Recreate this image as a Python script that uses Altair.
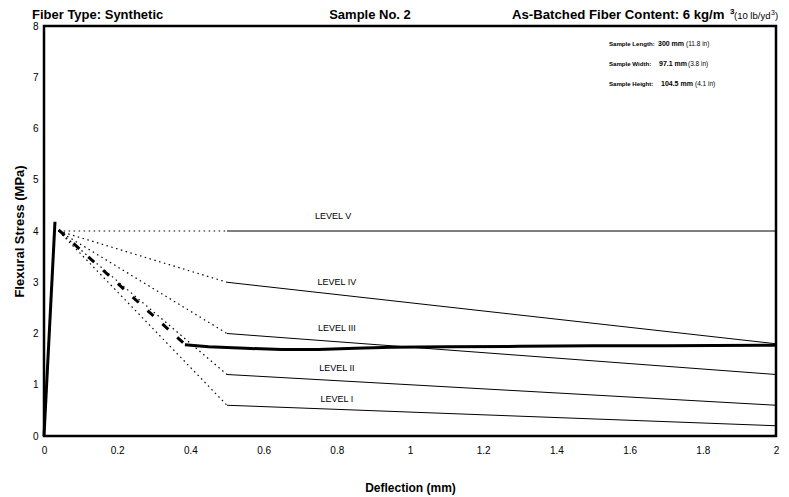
import altair as alt
import pandas as pd

FONT = "Liberation Sans"

# Pre-peak and post-peak specimen curve
peak_x = [0.0, 0.03]
peak_y = [0.0, 4.18]
drop_x = [0.04, 0.38]
drop_y = [4.02, 1.82]
resid_x = [0.385, 0.45, 0.55, 0.65, 0.75, 0.85, 0.95, 1.1, 1.3, 1.5, 1.7, 2.0]
resid_y = [1.78, 1.74, 1.71, 1.69, 1.69, 1.71, 1.73, 1.74, 1.75, 1.76, 1.76, 1.77]

# Performance levels
levels = ["LEVEL I", "LEVEL II", "LEVEL III", "LEVEL IV", "LEVEL V"]
level_start = [0.6, 1.2, 2.0, 3.0, 4.0]   # stress at 0.5 mm
level_end = [0.2, 0.6, 1.2, 1.8, 4.0]     # stress at 2.0 mm
level_origin_x = 0.04
level_origin_y = 4.0
label_x = [0.80, 0.80, 0.80, 0.80, 0.79]
label_y = [0.72, 1.32, 2.1, 3.0, 4.3]

x_ticks = [0, 0.2, 0.4, 0.6, 0.8, 1, 1.2, 1.4, 1.6, 1.8, 2]
y_ticks = [0, 1, 2, 3, 4, 5, 6, 7, 8]

dotted = pd.DataFrame(
    [{"lvl": l, "x": level_origin_x, "y": level_origin_y, "o": 0} for l in levels]
    + [{"lvl": l, "x": 0.5, "y": s, "o": 1} for l, s in zip(levels, level_start)]
)
solid = pd.DataFrame(
    [{"lvl": l, "x": 0.5, "y": s, "o": 0} for l, s in zip(levels, level_start)]
    + [{"lvl": l, "x": 2.0, "y": e, "o": 1} for l, e in zip(levels, level_end)]
)
labels_df = pd.DataFrame({"x": label_x, "y": label_y, "t": levels})
peak_df = pd.DataFrame({"x": peak_x, "y": peak_y})
drop_df = pd.DataFrame({"x": drop_x, "y": drop_y})
resid_df = pd.DataFrame({"x": resid_x, "y": resid_y})

xs = alt.Scale(domain=[0, 2], nice=False)
ys = alt.Scale(domain=[0, 8], nice=False)

x_axis = alt.Axis(values=x_ticks, format="~g", title="Deflection (mm)",
                  domain=False, ticks=False, grid=False, labelFlush=False,
                  labelFont=FONT, labelFontSize=10, labelPadding=9,
                  titleFont=FONT, titleFontSize=12, titleFontWeight="bold",
                  titlePadding=27, labelColor="black", titleColor="black")
y_axis = alt.Axis(values=y_ticks, format="~g", title="Flexural Stress (MPa)",
                  domain=False, ticks=False, grid=False, labelFlush=False,
                  labelFont=FONT, labelFontSize=10, labelPadding=6,
                  titleFont=FONT, titleFontSize=13, titleFontWeight="bold",
                  titlePadding=6, labelColor="black", titleColor="black")

dotted_l = alt.Chart(dotted).mark_line(color="black", strokeWidth=1.2, strokeDash=[1.5, 3.5]).encode(
    x=alt.X("x:Q", scale=xs, axis=x_axis), y=alt.Y("y:Q", scale=ys, axis=y_axis),
    detail="lvl:N", order="o:Q")
solid_l = alt.Chart(solid).mark_line(color="black", strokeWidth=1).encode(
    x=alt.X("x:Q", scale=xs), y=alt.Y("y:Q", scale=ys), detail="lvl:N", order="o:Q")
peak_l = alt.Chart(peak_df).mark_line(color="black", strokeWidth=3).encode(
    x=alt.X("x:Q", scale=xs), y=alt.Y("y:Q", scale=ys))
drop_l = alt.Chart(drop_df).mark_line(color="black", strokeWidth=3, strokeDash=[8, 12]).encode(
    x=alt.X("x:Q", scale=xs), y=alt.Y("y:Q", scale=ys))
resid_l = alt.Chart(resid_df).mark_line(color="black", strokeWidth=3).encode(
    x=alt.X("x:Q", scale=xs), y=alt.Y("y:Q", scale=ys))
lbl = alt.Chart(labels_df).mark_text(font=FONT, fontSize=9, color="black").encode(
    x=alt.X("x:Q", scale=xs), y=alt.Y("y:Q", scale=ys), text="t:N")

def txt(s, x, y, size, bold=True, align="left"):
    return alt.Chart(pd.DataFrame({"t": [s]})).mark_text(
        font=FONT, fontSize=size, fontWeight="bold" if bold else "normal",
        align=align, baseline="alphabetic", color="black").encode(
        x=alt.value(x), y=alt.value(y), text="t:N")

titles = [
    txt("Fiber Type:  Synthetic", -12, -7, 13),
    txt("Sample No. 2", 326, -7, 13, align="center"),
    txt("As-Batched Fiber Content:  6 kg/m", 468, -7, 13.2),
    txt("3", 686, -12, 8),
    txt("(10 lb/yd", 690, -7, 9.5, bold=False),
    txt("3", 727, -11, 7, bold=False),
    txt(")", 731, -7, 9.5, bold=False),
    txt("Sample Length:", 565, 20, 6.1),
    txt("300 mm", 614, 20, 7),
    txt("(11.8 in)", 642, 20, 6.5, bold=False),
    txt("Sample Width:", 565, 40, 6.1),
    txt("97.1 mm", 615, 40, 7),
    txt("(3.8 in)", 644, 40, 6.5, bold=False),
    txt("Sample Height:", 565, 60, 6.1),
    txt("104.5 mm", 617, 60, 7),
    txt("(4.1 in)", 651, 60, 6.5, bold=False),
]

chart = alt.layer(dotted_l, solid_l, peak_l, drop_l, resid_l, lbl, *titles).properties(
    width=732, height=410,
    autosize=alt.AutoSizeParams(type="none"),
    padding={"left": 36, "top": 18, "right": 5, "bottom": 60},
    background="white",
).configure_view(stroke="black", strokeWidth=2.5)

chart.save("out.html", embed_options={"renderer": "svg", "actions": False})
